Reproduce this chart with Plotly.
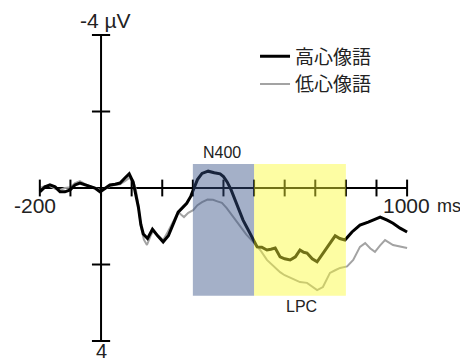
import plotly.graph_objects as go

# ---- data ----
t_high = [-200, -183, -167, -150, -134, -118, -101, -85, -69, -52, -36, -20, -3, 13, 29, 46, 62, 78, 92, 105,
          114, 122, 130, 138, 152, 168, 185, 203, 220, 235, 252, 268, 280, 293, 303, 315, 330, 350, 370, 389,
          400, 412, 425, 438, 451, 464, 478, 493, 500, 510, 525, 542, 555, 569, 585, 600, 618, 635, 650, 662,
          673, 690, 706, 722, 739, 752, 765, 780, 797, 820, 846, 873, 902, 912, 935, 954, 977, 1000]
v_high = [0.10, -0.03, -0.08, -0.03, 0.10, 0.10, 0.05, -0.08, -0.13, -0.08, -0.03, 0.0, 0.10, 0.0, -0.08, -0.10,
          -0.13, -0.26, -0.37, -0.15, 0.15, 0.50, 0.95, 1.20, 1.32, 1.08, 1.25, 1.41, 1.25, 0.97, 0.63, 0.50,
          0.40, 0.22, 0.02, -0.22, -0.38, -0.44, -0.40, -0.37, -0.30, -0.16, 0.05, 0.31, 0.58, 0.84, 1.05, 1.28,
          1.40, 1.54, 1.55, 1.62, 1.60, 1.57, 1.80, 1.85, 1.88, 1.80, 1.62, 1.68, 1.70, 1.85, 1.93, 1.75, 1.55,
          1.40, 1.25, 1.32, 1.36, 1.15, 0.97, 0.89, 0.78, 0.76, 0.84, 0.92, 1.05, 1.15]

t_low = [-200, -183, -167, -150, -134, -118, -101, -85, -69, -52, -36, -20, -3, 13, 29, 46, 62, 78, 92, 105,
         114, 122, 130, 140, 150, 162, 172, 187, 203, 218, 232, 252, 262, 271, 285, 301, 315, 330, 348, 366,
         380, 395, 410, 422, 438, 454, 475, 497, 520, 542, 565, 585, 600, 618, 635, 650, 673, 690, 706, 725,
         748, 765, 781, 804, 824, 846, 863, 880, 895, 912, 928, 954, 975, 1000]
v_low = [0.0, -0.05, -0.05, 0.02, 0.05, 0.0, -0.02, -0.13, -0.18, -0.10, -0.05, 0.0, 0.05, 0.02, -0.05, -0.08,
         -0.10, -0.18, -0.26, -0.20, 0.05, 0.45, 1.0, 1.35, 1.49, 1.25, 1.10, 1.25, 1.36, 1.15, 0.92, 0.63,
         0.70, 0.76, 0.65, 0.58, 0.45, 0.37, 0.30, 0.31, 0.35, 0.39, 0.52, 0.65, 0.82, 1.02, 1.22, 1.41, 1.62,
         1.88, 2.05, 2.20, 2.28, 2.35, 2.40, 2.46, 2.48, 2.58, 2.67, 2.59, 2.22, 2.15, 2.09, 2.05, 1.88, 1.54,
         1.44, 1.58, 1.67, 1.50, 1.36, 1.49, 1.52, 1.57]

series_names = ["高心像語", "低心像語"]
x_ticks = [-200, -100, 0, 100, 200, 300, 400, 500, 600, 700, 800, 900, 1000]
y_ticks = [-4, -2, 2, 4]
windows = [("N400", 300, 500), ("LPC", 500, 800)]
window_v = (-0.63, 2.82)

FONT = "Liberation Sans, Arial, Noto Sans CJK JP, sans-serif"

fig = go.Figure()

fig.add_trace(go.Scatter(x=t_low, y=v_low, mode="lines", name=series_names[1],
                         line=dict(color="#a3a3a3", width=2), legendrank=2, hoverinfo="skip"))
fig.add_trace(go.Scatter(x=t_high, y=v_high, mode="lines", name=series_names[0],
                         line=dict(color="#000000", width=3), legendrank=1, hoverinfo="skip"))

# tick marks
fig.add_trace(go.Scatter(x=x_ticks, y=[0] * len(x_ticks), mode="markers", showlegend=False, hoverinfo="skip",
                         cliponaxis=False,
                         marker=dict(symbol="line-ns", size=12, line=dict(color="black", width=2))))
fig.add_trace(go.Scatter(x=[0] * len(y_ticks), y=y_ticks, mode="markers", showlegend=False, hoverinfo="skip",
                         cliponaxis=False,
                         marker=dict(symbol="line-ew", size=13, line=dict(color="black", width=2))))

shapes = [
    dict(type="line", xref="x", yref="y", x0=x_ticks[0], x1=x_ticks[-1], y0=0, y1=0,
         line=dict(color="black", width=2), layer="below"),
    dict(type="line", xref="x", yref="y", x0=0, x1=0, y0=y_ticks[0], y1=y_ticks[-1],
         line=dict(color="black", width=2), layer="below"),
]
rect_colors = ["rgb(53,80,133)", "rgb(251,250,50)"]
for (name, a, b), c in zip(windows, rect_colors):
    shapes.append(dict(type="rect", xref="x", yref="y", x0=a, x1=b, y0=window_v[0], y1=window_v[1],
                       fillcolor=c, opacity=0.45, line=dict(width=0), layer="above"))

annotations = [
    dict(x=13, y=-4.37, text="-4 µV", font=dict(size=21)),
    dict(x=0, y=4.27, text="4", font=dict(size=20)),
    dict(x=-216, y=0.47, text="-200", font=dict(size=21)),
    dict(x=1082, y=0.47, text="1000", font=dict(size=21), xanchor="right"),
    dict(x=1091, y=0.47, text="ms", font=dict(size=18), xanchor="left"),
    dict(x=395, y=-0.94, text="N400", font=dict(size=16)),
    dict(x=654, y=3.11, text="LPC", font=dict(size=16)),
]
for an in annotations:
    an.update(xref="x", yref="y", showarrow=False)
    an.setdefault("xanchor", "center")
    an["font"].update(color="#222222", family=FONT)

# page has an 8px body margin; figure is sized to fit the 468x363 window
fig.update_layout(
    width=460, height=355,
    margin=dict(l=0, r=0, t=0, b=0, pad=0),
    paper_bgcolor="white", plot_bgcolor="white",
    xaxis=dict(range=[-304, 1199], visible=False, showgrid=False, zeroline=False),
    yaxis=dict(range=[4.575, -4.706], visible=False, showgrid=False, zeroline=False),
    shapes=shapes, annotations=annotations,
    showlegend=True,
    legend=dict(x=0.537, y=0.917, xanchor="left", yanchor="top", bgcolor="rgba(0,0,0,0)",
                font=dict(size=19, color="#222222", family="Noto Sans CJK JP, sans-serif"),
                tracegroupgap=0, itemwidth=30),
    font=dict(family=FONT),
)

fig.write_html("out.html")
